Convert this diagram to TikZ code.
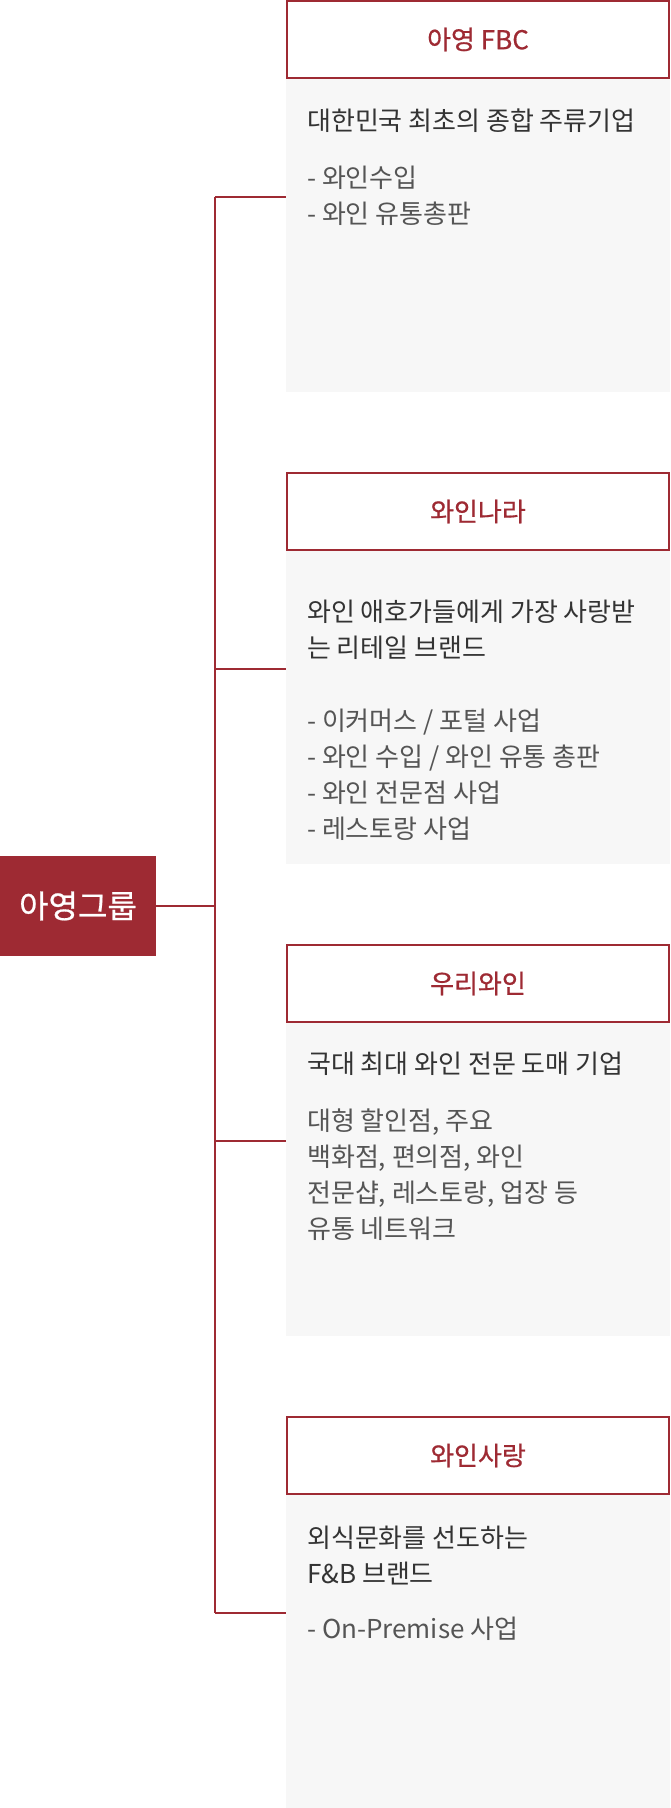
\documentclass[tikz,border=0pt]{standalone}
\usepackage{fontspec}
\setmainfont{Noto Sans CJK KR}
\newfontfamily\headfont{Noto Sans CJK KR}[FakeBold=0.6]
\definecolor{wine}{HTML}{9E2A33}
\definecolor{panel}{HTML}{F7F7F7}
\definecolor{dark}{HTML}{333333}
\definecolor{mid}{HTML}{555555}
\tikzset{
  link/.style={draw=wine, line width=2pt},
  titlebox/.style={draw=wine, line width=2pt, fill=white, minimum width=382pt, minimum height=77pt, inner sep=0pt, text=wine, font=\headfont\fontsize{26}{30}\selectfont},
  panelbox/.style={fill=panel, draw=none, minimum width=384pt, minimum height=313pt, inner sep=0pt},
  rootbox/.style={fill=wine, draw=none, minimum width=156pt, minimum height=100pt, inner sep=0pt, text=white, font=\headfont\fontsize{32}{36}\selectfont},
  lead/.style={anchor=base west, inner sep=0pt, text=dark, font=\fontsize{26}{36}\selectfont},
  item/.style={anchor=base west, inner sep=0pt, text=mid, font=\fontsize{26}{36}\selectfont}
}
\begin{document}
\begin{tikzpicture}[x=1pt,y=-1pt]
\useasboundingbox (0,0) rectangle (670,1808);
% panels
\node[panelbox] (p1) at (478,235.5) {};
\node[panelbox] (p2) at (478,707.5) {};
\node[panelbox] (p3) at (478,1179.5) {};
\node[panelbox] (p4) at (478,1651.5) {};
% titles
\node[titlebox] (t1) at (478,39.5) {아영 FBC};
\node[titlebox] (t2) at (478,511.5) {와인나라};
\node[titlebox] (t3) at (478,983.5) {우리와인};
\node[titlebox] (t4) at (478,1455.5) {와인사랑};
% root
\node[rootbox] (root) at (78,906) {아영그룹};
% connectors
\coordinate (s1) at (215,197);
\coordinate (s2) at (215,669);
\coordinate (s3) at (215,1141);
\coordinate (s4) at (215,1613);
\draw[link] (s1) -- (s4);
\draw[link] (root.east) -- (root.east -| s1);
\draw[link] (s1) -- (s1 -| p1.west);
\draw[link] (s2) -- (s2 -| p2.west);
\draw[link] (s3) -- (s3 -| p3.west);
\draw[link] (s4) -- (s4 -| p4.west);
% box 1 text
\node[lead] (a1) at (307,130) {대한민국 최초의 종합 주류기업};
\node[item] (a2) at (307,187) {- 와인수입};
\node[item] (a3) at (307,223) {- 와인 유통총판};
% box 2 text
\node[lead] (b1) at (307,621) {와인 애호가들에게 가장 사랑받};
\node[lead] (b2) at (307,657) {는 리테일 브랜드};
\node[item] (b3) at (307,730) {- 이커머스 / 포털 사업};
\node[item] (b4) at (307,766) {- 와인 수입 / 와인 유통 총판};
\node[item] (b5) at (307,802) {- 와인 전문점 사업};
\node[item] (b6) at (307,838) {- 레스토랑 사업};
% box 3 text
\node[lead] (c1) at (307,1073) {국대 최대 와인 전문 도매 기업};
\node[item] (c2) at (307,1130) {대형 할인점, 주요};
\node[item] (c3) at (307,1166) {백화점, 편의점, 와인};
\node[item] (c4) at (307,1202) {전문샵, 레스토랑, 업장 등};
\node[item] (c5) at (307,1238) {유통 네트워크};
% box 4 text
\node[lead] (d1) at (307,1547) {외식문화를 선도하는};
\node[lead] (d2) at (307,1583) {F\&B 브랜드};
\node[item] (d3) at (307,1638) {- On-Premise 사업};
\end{tikzpicture}
\end{document}
